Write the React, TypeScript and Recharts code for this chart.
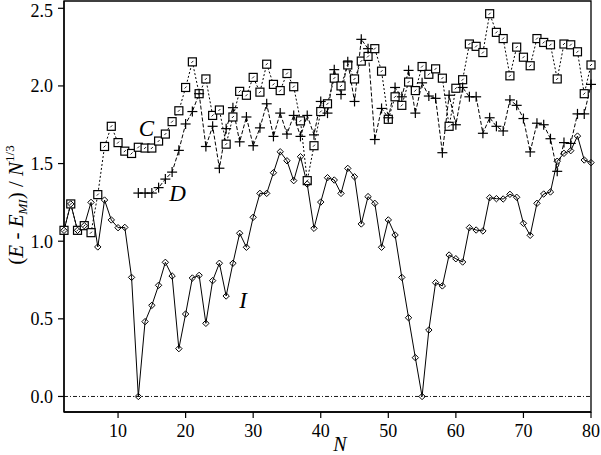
import React from 'react';
import { LineChart, Line, XAxis, YAxis, ReferenceLine, ReferenceArea, ReferenceDot } from 'recharts';

const nValues = [
  2, 3, 4, 5, 6, 7, 8, 9, 10, 11, 12, 13, 14, 15, 16, 17, 18, 19, 20, 21,
  22, 23, 24, 25, 26, 27, 28, 29, 30, 31, 32, 33, 34, 35, 36, 37, 38, 39, 40, 41,
  42, 43, 44, 45, 46, 47, 48, 49, 50, 51, 52, 53, 54, 55, 56, 57, 58, 59, 60, 61,
  62, 63, 64, 65, 66, 67, 68, 69, 70, 71, 72, 73, 74, 75, 76, 77, 78, 79, 80,
];

const cValues = [
  1.07, 1.24, 1.07, 1.10, 1.055, 1.30, 1.61, 1.74, 1.635, 1.58, 1.565, 1.605, 1.60, 1.60, 1.645, 1.69, 1.77, 1.84, 1.99, 2.155,
  1.95, 2.045, 1.81, 1.845, 1.625, 1.80, 1.965, 1.94, 2.055, 1.96, 2.14, 2.01, 1.97, 2.08, 1.995, 1.775, 1.39, 1.615, 1.835, 1.885,
  2.05, 2.00, 2.135, 2.045, 2.16, 2.19, 2.24, 2.095, 1.785, 1.93, 1.875, 2.025, 1.97, 2.125, 2.075, 2.11, 2.05, 1.74, 1.985, 2.04,
  2.27, 2.255, 2.215, 2.465, 2.345, 2.305, 2.065, 2.25, 2.185, 2.13, 2.305, 2.28, 2.265, 2.045, 2.27, 2.265, 2.22, 1.95, 2.135,
];

const dValues: (number | null)[] = [
  null, null, null, null, null, null, null, null, null, null, null, 1.31, 1.31, 1.31, 1.345, 1.40, 1.445, 1.585, 1.755, 1.835,
  1.95, 1.61, 1.74, 1.47, 1.725, 1.86, 1.64, 1.80, 1.615, 1.73, 1.885, 1.675, 1.825, 1.69, 1.81, 1.675, 1.81, 1.685, 1.90, 1.825,
  2.105, 1.945, 2.155, 1.90, 2.30, 2.24, 1.655, 1.855, 1.795, 1.99, 1.93, 2.10, 1.825, 2.02, 1.935, 1.92, 1.57, 1.94, 1.75, 1.99,
  1.93, 1.93, 1.695, 1.795, 1.74, 1.71, 1.91, 1.875, 1.79, 1.575, 1.76, 1.75, 1.66, 1.45, 1.635, 1.63, 1.82, 1.82, 2.01,
];

const iValues = [
  1.07, 1.24, 1.07, 1.10, 1.25, 0.963, 1.265, 1.137, 1.087, 1.089, 0.767, 0.0, 0.482, 0.587, 0.716, 0.864, 0.776, 0.308, 0.531, 0.763,
  0.78, 0.471, 0.746, 0.858, 0.647, 0.858, 1.051, 0.961, 1.154, 1.308, 1.308, 1.441, 1.576, 1.518, 1.39, 1.544, 1.368, 1.083, 1.252, 1.409,
  1.394, 1.308, 1.469, 1.415, 1.111, 1.287, 1.244, 0.961, 1.137, 1.04, 0.767, 0.507, 0.25, 0.0, 0.428, 0.733, 0.712, 0.911, 0.887, 0.866,
  1.087, 1.072, 1.066, 1.28, 1.274, 1.272, 1.302, 1.283, 1.115, 1.038, 1.244, 1.304, 1.317, 1.515, 1.566, 1.583, 1.677, 1.523, 1.506,
];

const xTicks = [10, 20, 30, 40, 50, 60, 70, 80];
const yTicks = [0, 0.5, 1.0, 1.5, 2.0, 2.5];
const xDomain = [2, 80];
const yDomain = [-0.1, 2.547];

const seriesLabels = [
  { text: 'C', n: 14.2, v: 1.727 },
  { text: 'D', n: 18.8, v: 1.312 },
  { text: 'I', n: 28.5, v: 0.623 },
];

const data = nValues.map((n, k) => ({ n, c: cValues[k], d: dValues[k], i: iValues[k] }));

const FONT = 'Liberation Serif';
const fontStyleObj = { fontFamily: 'Liberation Serif, serif' };

const SquareDot = (props: any) => {
  const { cx, cy, value, index } = props;
  if (value == null || cx == null || cy == null) return <g key={`c-${index}`} />;
  return (
    <g key={`c-${index}`}>
      <rect x={cx - 4} y={cy - 4} width={8} height={8} fill="white" stroke="black" strokeWidth={1.2} />
      <line x1={cx - 1} y1={cy + 1} x2={cx + 1} y2={cy - 1} stroke="black" strokeWidth={0.9} />
    </g>
  );
};

const PlusDot = (props: any) => {
  const { cx, cy, value, index } = props;
  if (value == null || cx == null || cy == null) return <g key={`d-${index}`} />;
  return (
    <g key={`d-${index}`}>
      <line x1={cx - 5} y1={cy} x2={cx + 5} y2={cy} stroke="black" strokeWidth={1.2} />
      <line x1={cx} y1={cy - 5} x2={cx} y2={cy + 5} stroke="black" strokeWidth={1.2} />
    </g>
  );
};

const DiamondDot = (props: any) => {
  const { cx, cy, value, index } = props;
  if (value == null || cx == null || cy == null) return <g key={`i-${index}`} />;
  return (
    <path
      key={`i-${index}`}
      d={`M${cx},${cy - 3.2} L${cx + 3.2},${cy} L${cx},${cy + 3.2} L${cx - 3.2},${cy} Z`}
      fill="white"
      fillOpacity={0}
      stroke="black"
      strokeWidth={1}
    />
  );
};

const YLabel = () => (
  <text
    transform="translate(23, 205) rotate(-90)"
    textAnchor="middle"
    fontFamily={FONT}
    style={fontStyleObj}
    fontSize={21}
    fill="black"
  >
    <tspan>(</tspan>
    <tspan fontStyle="italic">E</tspan>
    <tspan> - </tspan>
    <tspan fontStyle="italic">E</tspan>
    <tspan fontStyle="italic" fontSize={13} dy={4}>MI</tspan>
    <tspan dy={-4}>) / </tspan>
    <tspan fontStyle="italic">N</tspan>
    <tspan fontSize={13} dy={-9}>1/3</tspan>
  </text>
);

export default function App() {
  return (
    <div style={{ position: 'absolute', left: 0, top: 0, width: 601, height: 455, background: 'white' }}>
      <LineChart width={601} height={455} data={data} margin={{ top: 1, right: 10, left: 0, bottom: 0 }}>
        <XAxis
          dataKey="n"
          type="number"
          domain={xDomain}
          ticks={xTicks}
          height={43}
          axisLine={{ stroke: 'black', strokeWidth: 1.3 }}
          tickLine={{ stroke: 'black', strokeWidth: 1.2 }}
          tickSize={6}
          tickMargin={6}
          tick={{ fill: 'black', fontSize: 18, fontFamily: FONT, style: fontStyleObj }}
        />
        <YAxis
          type="number"
          domain={yDomain}
          ticks={yTicks}
          width={64}
          axisLine={{ stroke: 'black', strokeWidth: 1.3 }}
          tickLine={{ stroke: 'black', strokeWidth: 1.2 }}
          tickSize={6}
          tickMargin={5}
          tickFormatter={(v: number) => v.toFixed(1)}
          tick={{ fill: 'black', fontSize: 18, fontFamily: FONT, style: fontStyleObj }}
        />
        <ReferenceArea
          x1={xDomain[0]}
          x2={xDomain[1]}
          y1={yDomain[0]}
          y2={yDomain[1]}
          fill="none"
          fillOpacity={0}
          stroke="black"
          strokeWidth={1.3}
        />
        <ReferenceLine y={0} stroke="black" strokeWidth={0.9} strokeDasharray="4 2 1 2" />
        <Line
          dataKey="c"
          stroke="black"
          strokeWidth={1}
          strokeDasharray="2 2"
          dot={(p: any) => <SquareDot {...p} key={`c-${p.index}`} />}
          isAnimationActive={false}
          connectNulls={false}
        />
        <Line
          dataKey="d"
          stroke="black"
          strokeWidth={1}
          strokeDasharray="4 2"
          dot={(p: any) => <PlusDot {...p} key={`d-${p.index}`} />}
          isAnimationActive={false}
          connectNulls={false}
        />
        <Line
          dataKey="i"
          stroke="black"
          strokeWidth={1}
          dot={(p: any) => <DiamondDot {...p} key={`i-${p.index}`} />}
          isAnimationActive={false}
        />
        {seriesLabels.map((s) => (
          <ReferenceDot
            key={s.text}
            x={s.n}
            y={s.v}
            r={0}
            shape={(p: any) => (
              <text
                x={p.cx}
                y={p.cy}
                dy="0.35em"
                textAnchor="middle"
                fontFamily={FONT}
                style={fontStyleObj}
                fontStyle="italic"
                fontSize={23}
                fill="black"
              >
                {s.text}
              </text>
            )}
          />
        ))}
        <text x={340} y={451} textAnchor="middle" fontFamily={FONT} style={fontStyleObj} fontStyle="italic" fontSize={20} fill="black">
          N
        </text>
        <YLabel />
      </LineChart>
    </div>
  );
}
